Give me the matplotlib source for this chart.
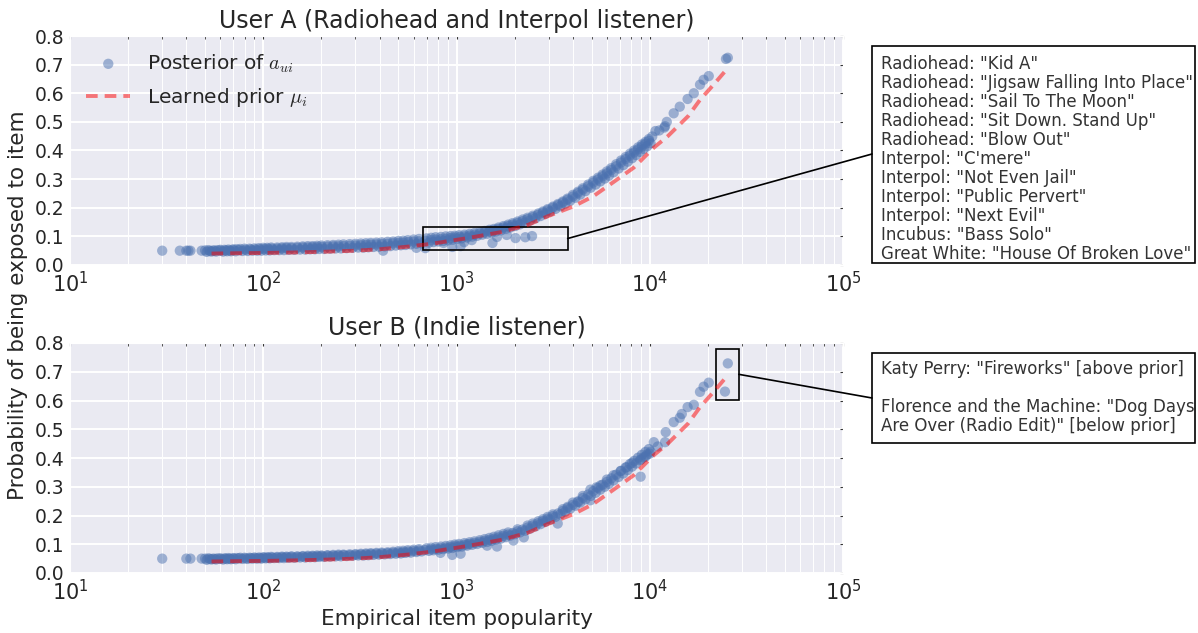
import numpy as np
import matplotlib
matplotlib.use('Agg')
import matplotlib.pyplot as plt
import seaborn as sns
from matplotlib.patches import Rectangle, ConnectionPatch

sns.set_style('darkgrid')
plt.rcParams['font.family'] = ['DejaVu Sans']
plt.rcParams['mathtext.fontset'] = 'cm'

# ---- data ----
# learned prior mu_i (same items for both users)
prior_pop = [54, 70, 100, 150, 200, 300, 400, 557, 760, 1140, 1700, 2340, 2960,
             4040, 5100, 6500, 8260, 10500, 12400, 15800, 18200, 21400, 25350]
prior_val = [0.040, 0.041, 0.042, 0.044, 0.046, 0.050, 0.055, 0.064, 0.075, 0.094,
             0.115, 0.140, 0.170, 0.205, 0.240, 0.290, 0.340, 0.410, 0.450, 0.520,
             0.577, 0.630, 0.688]

# user A posterior (upper edge of the band, outliers, sparse top end)
pop_a = [30, 37, 40, 41, 42, 48, 50, 52, 55, 58, 60, 63, 66, 70, 73, 76, 80, 85, 90, 95,
         100, 105, 110, 118, 125, 132, 140, 150, 160, 170, 180, 190, 200, 215, 230, 245,
         260, 280, 300, 320, 340, 360, 385, 410, 417, 440, 470, 500, 530, 560, 600, 620,
         640, 690, 700, 740, 780, 830, 857, 880, 930, 952, 980, 1030, 1050, 1095, 1100,
         1170, 1200, 1240, 1320, 1400, 1480, 1535, 1560, 1620, 1650, 1750, 1820, 1850,
         1950, 2020, 2070, 2200, 2270, 2330, 2460, 2480, 2650, 2800, 2960, 3150, 3350,
         3550, 3750, 4000, 4250, 4500, 4800, 5100, 5400, 5700, 6000, 6300, 6700, 7100,
         7500, 7900, 8300, 8700, 9100, 9500, 9900, 10300, 10700, 11200, 11900, 12000,
         12250, 13300, 14300, 15700, 16900, 18200, 19000, 20200, 24800, 25350]
post_a = [0.050, 0.050, 0.050, 0.050, 0.050, 0.050, 0.051, 0.052, 0.051, 0.052, 0.053,
          0.053, 0.054, 0.055, 0.055, 0.056, 0.057, 0.057, 0.058, 0.059, 0.060, 0.060,
          0.061, 0.061, 0.062, 0.063, 0.063, 0.064, 0.065, 0.066, 0.066, 0.067, 0.068,
          0.069, 0.070, 0.071, 0.072, 0.073, 0.074, 0.075, 0.076, 0.077, 0.078, 0.079,
          0.050, 0.081, 0.082, 0.084, 0.085, 0.087, 0.089, 0.060, 0.091, 0.059, 0.093,
          0.095, 0.097, 0.098, 0.077, 0.100, 0.101, 0.063, 0.102, 0.104, 0.066, 0.080,
          0.106, 0.109, 0.087, 0.112, 0.115, 0.119, 0.123, 0.077, 0.126, 0.098, 0.131,
          0.136, 0.105, 0.141, 0.146, 0.094, 0.152, 0.159, 0.097, 0.165, 0.101, 0.172,
          0.180, 0.187, 0.195, 0.204, 0.213, 0.222, 0.232, 0.245, 0.256, 0.268, 0.281,
          0.294, 0.305, 0.316, 0.327, 0.338, 0.352, 0.365, 0.377, 0.389, 0.400, 0.411,
          0.421, 0.430, 0.440, 0.449, 0.468, 0.470, 0.480, 0.485, 0.500, 0.530, 0.553,
          0.580, 0.600, 0.630, 0.647, 0.660, 0.720, 0.724]

# lower edge of the dense band (x shared by both users)
band_pop = [51, 54, 57, 62, 65, 68, 72, 78, 83, 88, 93, 98, 103, 108, 114, 121, 128, 136,
            145, 155, 165, 175, 185, 195, 207, 222, 237, 252, 270, 290, 310, 330, 350,
            372, 397, 425, 455, 485, 515, 545, 580, 620, 660, 720, 760, 805, 855, 905,
            955, 1010, 1065, 1135, 1205, 1280, 1360, 1440, 1520, 1600, 1700, 1800, 1900,
            2010, 2130, 2260, 2400, 2560, 2720, 2880, 3050, 3250, 3450, 3650, 3870, 4120,
            4370, 4650, 4950, 5250, 5550, 5850, 6150, 6500, 6900, 7300, 7700, 8100, 8500,
            8900, 9300, 9700, 10100]
band_a = [0.046, 0.047, 0.047, 0.047, 0.048, 0.048, 0.048, 0.049, 0.049, 0.050, 0.050,
          0.050, 0.051, 0.051, 0.052, 0.052, 0.052, 0.053, 0.053, 0.054, 0.054, 0.055,
          0.055, 0.056, 0.056, 0.057, 0.058, 0.058, 0.059, 0.060, 0.061, 0.061, 0.062,
          0.063, 0.064, 0.065, 0.066, 0.068, 0.069, 0.070, 0.072, 0.074, 0.076, 0.078,
          0.080, 0.082, 0.084, 0.086, 0.088, 0.091, 0.093, 0.096, 0.099, 0.102, 0.106,
          0.109, 0.113, 0.117, 0.121, 0.126, 0.131, 0.136, 0.142, 0.148, 0.155, 0.163,
          0.171, 0.179, 0.187, 0.196, 0.205, 0.214, 0.224, 0.235, 0.246, 0.258, 0.270,
          0.281, 0.292, 0.302, 0.312, 0.324, 0.337, 0.349, 0.361, 0.373, 0.384, 0.395,
          0.405, 0.415, 0.425]
band_b = [0.046, 0.047, 0.047, 0.047, 0.048, 0.048, 0.048, 0.049, 0.049, 0.050, 0.050,
          0.050, 0.051, 0.051, 0.052, 0.052, 0.052, 0.053, 0.053, 0.054, 0.054, 0.055,
          0.055, 0.056, 0.056, 0.057, 0.058, 0.058, 0.059, 0.060, 0.061, 0.061, 0.062,
          0.063, 0.064, 0.065, 0.066, 0.067, 0.068, 0.070, 0.071, 0.073, 0.075, 0.077,
          0.079, 0.081, 0.083, 0.085, 0.087, 0.090, 0.092, 0.095, 0.098, 0.101, 0.105,
          0.108, 0.112, 0.116, 0.120, 0.125, 0.130, 0.135, 0.141, 0.147, 0.154, 0.162,
          0.170, 0.178, 0.186, 0.195, 0.204, 0.213, 0.223, 0.234, 0.245, 0.256, 0.268,
          0.279, 0.290, 0.300, 0.310, 0.322, 0.334, 0.346, 0.358, 0.370, 0.381, 0.392,
          0.402, 0.412, 0.422]

# middle of the dense band
mid_pop = [53, 56, 60, 64, 67, 70, 75, 81, 86, 91, 96, 101, 106, 111, 118, 125, 132, 140,
           150, 160, 170, 180, 190, 201, 215, 230, 245, 261, 280, 300, 320, 340, 361, 385,
           411, 440, 470, 500, 530, 562, 600, 640, 690, 740, 782, 830, 880, 930, 982, 1037,
           1100, 1170, 1242, 1320, 1400, 1480, 1560, 1650, 1750, 1850, 1955, 2070, 2195,
           2330, 2480, 2640, 2800, 2965, 3150, 3350, 3550, 3760, 3995, 4245, 4510, 4800,
           5100, 5400, 5700, 6000, 6325, 6700, 7100, 7500, 7900, 8300, 8700, 9100, 9500,
           9900]
mid_a = [0.049, 0.050, 0.050, 0.051, 0.051, 0.052, 0.052, 0.053, 0.054, 0.054, 0.055,
         0.056, 0.056, 0.057, 0.057, 0.058, 0.059, 0.059, 0.060, 0.061, 0.061, 0.062,
         0.062, 0.063, 0.064, 0.065, 0.065, 0.066, 0.067, 0.068, 0.069, 0.070, 0.071,
         0.072, 0.073, 0.074, 0.076, 0.077, 0.078, 0.080, 0.082, 0.083, 0.085, 0.087,
         0.089, 0.090, 0.092, 0.094, 0.096, 0.098, 0.100, 0.103, 0.106, 0.110, 0.114,
         0.117, 0.121, 0.126, 0.131, 0.136, 0.141, 0.147, 0.153, 0.160, 0.167, 0.175,
         0.183, 0.191, 0.200, 0.209, 0.218, 0.228, 0.239, 0.251, 0.263, 0.275, 0.288,
         0.299, 0.310, 0.320, 0.332, 0.345, 0.358, 0.370, 0.382, 0.393, 0.404, 0.414,
         0.424, 0.434]
mid_b = [0.049, 0.049, 0.049, 0.050, 0.050, 0.050, 0.051, 0.051, 0.052, 0.052, 0.052,
         0.053, 0.053, 0.054, 0.054, 0.055, 0.055, 0.056, 0.056, 0.057, 0.057, 0.058,
         0.058, 0.059, 0.060, 0.060, 0.061, 0.062, 0.062, 0.063, 0.064, 0.065, 0.066,
         0.067, 0.068, 0.069, 0.070, 0.071, 0.072, 0.074, 0.076, 0.078, 0.080, 0.082,
         0.084, 0.086, 0.088, 0.090, 0.093, 0.095, 0.098, 0.101, 0.104, 0.108, 0.112,
         0.115, 0.119, 0.124, 0.129, 0.134, 0.139, 0.145, 0.151, 0.158, 0.165, 0.173,
         0.181, 0.189, 0.198, 0.207, 0.216, 0.226, 0.237, 0.249, 0.261, 0.273, 0.285,
         0.296, 0.307, 0.317, 0.329, 0.342, 0.355, 0.367, 0.379, 0.390, 0.401, 0.411,
         0.421, 0.431]

# user B posterior (upper edge of the band, outliers, sparse top end)
pop_b = [30, 40, 42, 48, 50, 52, 55, 58, 60, 63, 66, 70, 73, 76, 80, 85, 90, 95,
         100, 105, 110, 118, 125, 132, 140, 150, 160, 170, 180, 190, 200, 215, 230, 245,
         260, 280, 300, 320, 340, 360, 385, 410, 440, 470, 500, 530, 560, 600, 640, 700,
         740, 780, 826, 830, 880, 930, 950, 980, 1030, 1050, 1100, 1140, 1170, 1240,
         1320, 1400, 1440, 1480, 1560, 1620, 1650, 1750, 1850, 1970, 2070, 2230, 2330,
         2480, 2650, 2800, 2960, 3150, 3340, 3550, 3760, 4000, 4270, 4500, 4930, 4930,
         5300, 5570, 6000, 6500, 7070, 7600, 8100, 8970, 9000, 9500, 10000, 10500,
         11000, 12000, 12100, 13300, 14300, 14650, 15700, 16900, 18200, 19000, 20200,
         24500, 25350]
post_b = [0.050, 0.050, 0.050, 0.050, 0.050, 0.051, 0.050, 0.051, 0.051, 0.051, 0.052,
          0.052, 0.052, 0.053, 0.053, 0.053, 0.054, 0.054, 0.055, 0.055, 0.056, 0.056,
          0.057, 0.057, 0.058, 0.058, 0.059, 0.060, 0.060, 0.061, 0.061, 0.062, 0.063,
          0.064, 0.064, 0.065, 0.066, 0.067, 0.068, 0.069, 0.070, 0.071, 0.072, 0.074,
          0.076, 0.077, 0.079, 0.081, 0.083, 0.086, 0.088, 0.090, 0.070, 0.092, 0.094,
          0.096, 0.063, 0.099, 0.101, 0.067, 0.104, 0.100, 0.107, 0.110, 0.114, 0.118,
          0.095, 0.122, 0.126, 0.092, 0.131, 0.136, 0.141, 0.113, 0.152, 0.124, 0.165,
          0.172, 0.180, 0.187, 0.195, 0.204, 0.172, 0.222, 0.230, 0.245, 0.247, 0.268,
          0.290, 0.253, 0.298, 0.305, 0.325, 0.340, 0.355, 0.368, 0.383, 0.335, 0.395,
          0.405, 0.415, 0.455, 0.440, 0.455, 0.490, 0.525, 0.540, 0.553, 0.577, 0.585,
          0.630, 0.648, 0.662, 0.631, 0.729]

note_a = ['Radiohead: "Kid A"',
          'Radiohead: "Jigsaw Falling Into Place"',
          'Radiohead: "Sail To The Moon"',
          'Radiohead: "Sit Down. Stand Up"',
          'Radiohead: "Blow Out"',
          'Interpol: "C\'mere"',
          'Interpol: "Not Even Jail"',
          'Interpol: "Public Pervert"',
          'Interpol: "Next Evil"',
          'Incubus: "Bass Solo"',
          'Great White: "House Of Broken Love"']
note_b = ['Katy Perry: "Fireworks" [above prior]',
          '',
          'Florence and the Machine: "Dog Days',
          'Are Over (Radio Edit)" [below prior]']

W, H = 1198, 633
fig = plt.figure(figsize=(W / 100, H / 100), dpi=100)
ax_a = fig.add_axes([70 / W, 1 - 265 / H, 773 / W, 229 / H])
ax_b = fig.add_axes([70 / W, 1 - 573 / H, 773 / W, 230 / H])

blue = '#4C72B0'
for ax, pop, post, band, mid, title in [
        (ax_a, pop_a, post_a, band_a, mid_a, 'User A (Radiohead and Interpol listener)'),
        (ax_b, pop_b, post_b, band_b, mid_b, 'User B (Indie listener)')]:
    ax.scatter(band_pop, band, s=55, color=blue, alpha=0.55, edgecolors='none')
    ax.scatter(mid_pop, mid, s=55, color=blue, alpha=0.55, edgecolors='none')
    ax.scatter(pop, post, s=55, color=blue, alpha=0.5, edgecolors='none',
               label='Posterior of $a_{ui}$')
    ax.plot(prior_pop, prior_val, '--', color='red', alpha=0.5, lw=2.8,
            dashes=(3, 1.8), label='Learned prior $\\mu_i$')
    ax.set_xscale('log')
    ax.set_xlim(10, 1e5)
    ax.set_ylim(0, 0.8)
    ax.set_yticks(np.arange(0, 0.81, 0.1))
    ax.yaxis.set_major_formatter(matplotlib.ticker.FormatStrFormatter('%.1f'))
    ax.grid(True, which='major', color='white', lw=1.4)
    ax.grid(True, which='minor', color='white', lw=0.7)
    ax.tick_params(which='both', labelsize=13.5, top=True, right=True,
                   direction='in', length=2, color='0.2', pad=4)
    ax.tick_params(axis='x', labelsize=15)
    ax.set_title(title, fontsize=17, color='0.15', pad=6)
    for lab in ax.get_xticklabels() + ax.get_yticklabels():
        lab.set_color('0.15')

handles, labels = ax_a.get_legend_handles_labels()
leg = ax_a.legend(handles, labels, loc='upper left', fontsize=14.5, frameon=False,
                  handlelength=2.2, labelspacing=0.55, borderaxespad=0.4)
for t in leg.get_texts():
    t.set_color('0.15')

ax_b.set_xlabel('Empirical item popularity', fontsize=15.5, color='0.15', labelpad=4)
fig.text(18 / W, 1 - 305 / H, 'Probability of being exposed to item', rotation=90,
         ha='center', va='center', fontsize=15.5, color='0.15')

# highlighted regions
ax_a.add_patch(Rectangle((667, 0.052), 3760 - 667, 0.081, fill=False, ec='black', lw=1.2))
ax_b.add_patch(Rectangle((21990, 0.602), 28900 - 21990, 0.178, fill=False, ec='black',
                         lw=1.2))

# note boxes
fig.add_artist(Rectangle((872 / W, 1 - 263 / H), 323 / W, 217 / H, transform=fig.transFigure,
                         fc='white', ec='black', lw=1.2))
fig.add_artist(Rectangle((872 / W, 1 - 443 / H), 323 / W, 90 / H, transform=fig.transFigure,
                         fc='white', ec='black', lw=1.2))
fig.text(881 / W, 1 - 55 / H, '\n'.join(note_a), ha='left', va='top', fontsize=12,
         color='0.2', linespacing=1.07)
fig.text(881 / W, 1 - 360 / H, '\n'.join(note_b), ha='left', va='top', fontsize=12,
         color='0.2', linespacing=1.07)

fig.add_artist(ConnectionPatch(xyA=(3760, 0.0925), coordsA=ax_a.transData,
                               xyB=(872 / W, 1 - 154 / H), coordsB='figure fraction',
                               color='black', lw=1.2))
fig.add_artist(ConnectionPatch(xyA=(28900, 0.691), coordsA=ax_b.transData,
                               xyB=(872 / W, 1 - 398 / H), coordsB='figure fraction',
                               color='black', lw=1.2))

fig.savefig('out.png', dpi=100)
